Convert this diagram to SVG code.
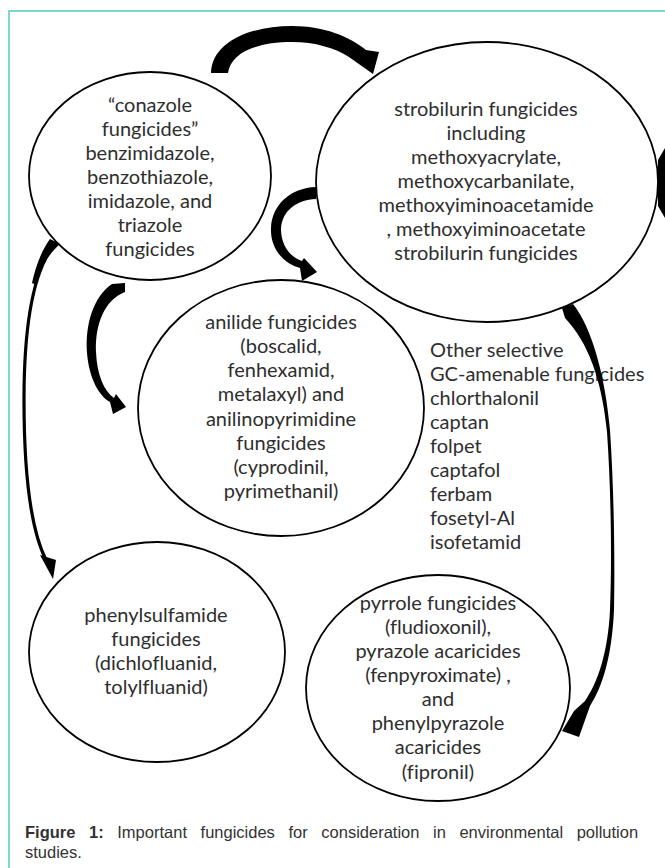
<svg xmlns="http://www.w3.org/2000/svg" width="665" height="868" viewBox="0 0 665 868">
<style>
.node ellipse{fill:#fff;stroke:#000;stroke-width:1.8}
.lbl{font-family:Lato,"Open Sans",sans-serif;font-size:20px;fill:#2e2e2e;text-anchor:middle;font-variant-ligatures:none}
.lft{text-anchor:start}
.arr{fill:#000;stroke:none}
.cap{font-family:"Liberation Sans",Arial,sans-serif;font-size:16.5px;fill:#333}
</style>
<rect width="665" height="868" fill="#fff"/>
<rect id="frame" x="9" y="11" width="700" height="900" fill="none" stroke="#4ecdc0" stroke-width="1.5"/>

<g id="node-conazole" class="node">
<ellipse cx="150" cy="176" rx="121" ry="104"/>
<text class="lbl"><tspan x="150" y="112">“conazole</tspan><tspan x="150" y="136">fungicides”</tspan><tspan x="150" y="160">benzimidazole,</tspan><tspan x="150" y="184">benzothiazole,</tspan><tspan x="150" y="208">imidazole, and</tspan><tspan x="150" y="232">triazole</tspan><tspan x="150" y="256">fungicides</tspan></text>
</g>

<g id="node-strobilurin" class="node">
<ellipse cx="487" cy="182" rx="171" ry="140"/>
<text class="lbl"><tspan x="486" y="116">strobilurin fungicides</tspan><tspan x="486" y="140">including</tspan><tspan x="486" y="164">methoxyacrylate,</tspan><tspan x="486" y="188">methoxycarbanilate,</tspan><tspan x="486" y="212">methoxyiminoacetamide</tspan><tspan x="486" y="236">, methoxyiminoacetate</tspan><tspan x="486" y="260">strobilurin fungicides</tspan></text>
</g>

<g id="node-anilide" class="node">
<ellipse cx="281" cy="408" rx="143" ry="128"/>
<text class="lbl"><tspan x="281" y="329">anilide fungicides</tspan><tspan x="281" y="353">(boscalid,</tspan><tspan x="281" y="377">fenhexamid,</tspan><tspan x="281" y="401">metalaxyl) and</tspan><tspan x="281" y="426">anilinopyrimidine</tspan><tspan x="281" y="450">fungicides</tspan><tspan x="281" y="474">(cyprodinil,</tspan><tspan x="281" y="498">pyrimethanil)</tspan></text>
</g>

<g id="node-other">
<text class="lbl lft"><tspan x="430" y="357">Other selective</tspan><tspan x="430" y="381">GC-amenable fungicides</tspan><tspan x="430" y="405">chlorthalonil</tspan><tspan x="430" y="429">captan</tspan><tspan x="430" y="453">folpet</tspan><tspan x="430" y="477">captafol</tspan><tspan x="430" y="501">ferbam</tspan><tspan x="430" y="525">fosetyl-Al</tspan><tspan x="430" y="549">isofetamid</tspan></text>
</g>

<g id="node-phenylsulfamide" class="node">
<ellipse cx="157" cy="652" rx="128" ry="110"/>
<text class="lbl"><tspan x="156" y="622">phenylsulfamide</tspan><tspan x="156" y="646">fungicides</tspan><tspan x="156" y="670">(dichlofluanid,</tspan><tspan x="156" y="694">tolylfluanid)</tspan></text>
</g>

<g id="node-pyrrole" class="node">
<ellipse cx="438" cy="688" rx="132" ry="113"/>
<text class="lbl"><tspan x="438" y="610">pyrrole fungicides</tspan><tspan x="438" y="634">(fludioxonil),</tspan><tspan x="438" y="658">pyrazole acaricides</tspan><tspan x="438" y="682">(fenpyroximate) ,</tspan><tspan x="438" y="706">and</tspan><tspan x="438" y="730">phenylpyrazole</tspan><tspan x="438" y="754">acaricides</tspan><tspan x="438" y="779">(fipronil)</tspan></text>
</g>

<g id="connectors">
<path class="arr" d="M 211,73 C 212,42 250,26 292,26 C 325,26 350,37 366,50 L 379,52 L 373,74 L 349,57 C 335,48 315,42 292,42 C 258,42 231,52 228,73 Z"/>
<path class="arr" d="M 316,187 C 290,188 272,205 271,228 C 270,250 285,264 300,268 L 302,281 L 317,272 L 304,258 L 302,261 C 290,257 281,245 281,229 C 282,211 296,200 316,199 Z"/>
<path class="arr" d="M 125,283 L 112,284 C 93,297 85,325 87,353 C 89,378 99,396 110,402 L 113,414 L 126,407 L 116,394 L 114,398 C 104,391 97,375 96,352 C 95,325 104,300 125,292 Z"/>
<path d="M 56,243 C 32,270 24,330 24,400 C 24,480 31,530 46,560" fill="none" stroke="#000" stroke-width="3.2"/>
<path class="arr" d="M 50,239 L 60,244 C 48,255 40,268 36,285 L 32,283 C 36,265 42,250 50,239 Z"/>
<polygon class="arr" points="40,555 56,560 53,579"/>
<path class="arr" d="M 562,308 L 573,304 C 592,328 605,375 610,430 C 614,490 615,560 614,610 C 612,655 603,686 590,706 L 579,737 L 562,731 L 574,711 L 585,701 C 598,682 608,652 610,610 C 612,560 611,490 607,432 C 602,380 588,342 565,318 Z"/>
<path class="arr" d="M 658,160 L 665,148 L 665,218 L 658,206 Z"/>
</g>

<g id="caption" class="cap">
<text x="25" y="838" word-spacing="9"><tspan font-weight="bold">Figure 1:</tspan> Important fungicides for consideration in environmental pollution</text>
<text x="25" y="858">studies.</text>
</g>
</svg>
